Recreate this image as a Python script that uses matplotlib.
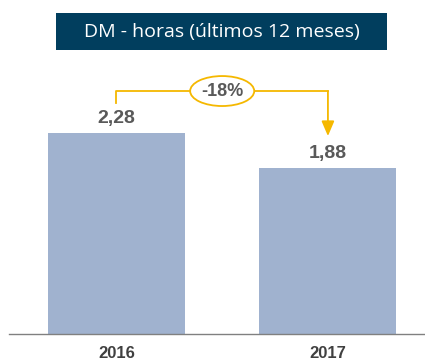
import matplotlib.pyplot as plt
from matplotlib.patches import Ellipse, Rectangle

years = ["2016", "2017"]
horas = [2.28, 1.88]
variacao = "-18%"

fig = plt.figure(figsize=(4.25, 3.6), dpi=100)
ax = fig.add_axes([9 / 425, 26 / 360, 416 / 425, 300 / 360])

x = range(len(years))
ax.bar(x, horas, width=0.648, color="#A0B2CF")
ax.set_xlim(-0.508, 1.459)
ax.set_ylim(0, 3.403)

for xi, v in zip(x, horas):
    ax.annotate(f"{v:.2f}".replace(".", ","), (xi, v), xytext=(0, 4.5),
                textcoords="offset points", ha="center", va="bottom",
                fontsize=14, fontweight="bold", color="#595959",
                family="Liberation Sans")

for xi, y in zip(x, years):
    ax.annotate(y, (xi, 0), xytext=(0, -14), textcoords="offset points",
                ha="center", va="center", fontsize=12, fontweight="bold",
                color="#404040", family="Liberation Sans")

# bracket arrow showing the change
orange = "#F5B800"
top = 2.756
ax.plot([0, 0, 1], [2.62, top, top], color=orange, lw=1.3)
ax.annotate("", xy=(1, 2.245), xytext=(1, top),
            arrowprops=dict(arrowstyle="-|>,head_length=0.75,head_width=0.32",
                            color=orange, lw=1.3, mutation_scale=12,
                            shrinkA=0, shrinkB=0))
ax.add_patch(Ellipse((0.5, top), 0.303, 0.34, facecolor="white",
                     edgecolor=orange, lw=1.3, zorder=3))
ax.text(0.5, top, variacao, ha="center", va="center", fontsize=13,
        fontweight="bold", color="#595959", family="Liberation Sans", zorder=4)

for s in ["top", "right", "left"]:
    ax.spines[s].set_visible(False)
ax.spines["bottom"].set_color("#808080")
ax.spines["bottom"].set_linewidth(1)
ax.set_xticks([])
ax.set_yticks([])

# title banner
fig.patches.append(Rectangle((56 / 425, 1 - 50 / 360), 331 / 425, 37 / 360,
                             transform=fig.transFigure, facecolor="#013E5E",
                             edgecolor="none"))
fig.text(221.5 / 425, 1 - 32 / 360, "DM - horas (últimos 12 meses)",
         ha="center", va="center", fontsize=14, color="white",
         family="Open Sans")

fig.savefig("out.png", dpi=100)
